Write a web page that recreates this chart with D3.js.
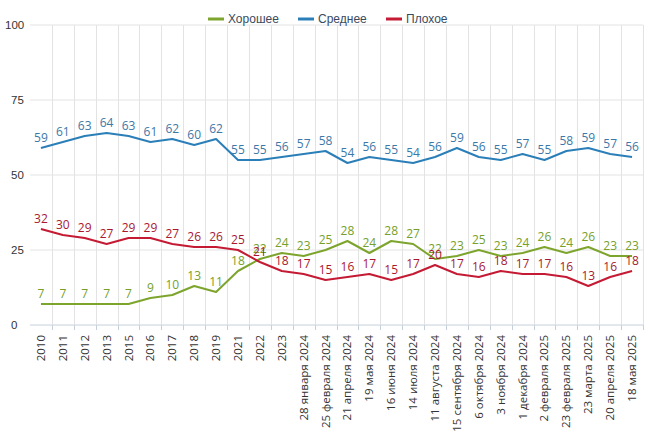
<!DOCTYPE html>
<html><head><meta charset="utf-8">
<script src="https://cdn.jsdelivr.net/npm/d3@7"></script>
<style>body{margin:0;background:#fff}svg{display:block}</style>
</head><body>
<script>
const categories = ["2010","2011","2012","2013","2015","2016","2017","2018","2019","2021","2022","2023",
"28 января 2024","25 февраля 2024","21 апреля 2024","19 мая 2024","16 июня 2024","14 июля 2024",
"11 августа 2024","15 сентября 2024","6 октября 2024","3 ноября 2024","1 декабря 2024",
"2 февраля 2025","23 февраля 2025","23 марта 2025","20 апреля 2025","18 мая 2025"];
const good = [7,7,7,7,7,9,10,13,11,18,22,24,23,25,28,24,28,27,22,23,25,23,24,26,24,26,23,23];
const average = [59,61,63,64,63,61,62,60,62,55,55,56,57,58,54,56,55,54,56,59,56,55,57,55,58,59,57,56];
const bad = [32,30,29,27,29,29,27,26,26,25,21,18,17,15,16,17,15,17,20,17,16,18,17,17,16,13,16,18];
const seriesNames = ["Хорошее","Среднее","Плохое"];
const yTicks = [0,25,50,75,100];

const W=650,H=433;
const svg=d3.select("body").append("svg").attr("width",W).attr("height",H);
const x=d3.scaleBand().domain(categories).range([30,643]);
const y=d3.scaleLinear().domain([0,100]).range([325,25]);

const series=[
 {name:seriesNames[0],vals:good,color:"#7da42d",lab:"#76a02a"},
 {name:seriesNames[1],vals:average,color:"#2b7fb8",lab:"#3c78a8"},
 {name:seriesNames[2],vals:bad,color:"#c41a33",lab:"#a8182f"}
];

// grid
const g=svg.append("g");
g.selectAll(".hg").data(yTicks).enter().append("line")
 .attr("x1",30).attr("x2",643).attr("y1",d=>y(d)).attr("y2",d=>y(d))
 .attr("stroke",d=>d===0?"#c5d0dc":"#e3e3e3").attr("stroke-width",1);
const bounds=categories.map(c=>x(c)).concat([x.range()[1]]);
g.selectAll(".vg").data(bounds.slice(1)).enter().append("line")
 .attr("x1",d=>Math.round(d)+0.5).attr("x2",d=>Math.round(d)+0.5).attr("y1",25).attr("y2",325)
 .attr("stroke","#e3e3e3");
// x ticks
g.selectAll(".xt").data(bounds.slice(1)).enter().append("line")
 .attr("x1",d=>Math.round(d)+0.5).attr("x2",d=>Math.round(d)+0.5).attr("y1",325).attr("y2",330)
 .attr("stroke","#c5d0dc");

// y labels
svg.selectAll(".yl").data(yTicks).enter().append("text")
 .attr("x",d=>d===100?5:11).attr("y",d=>y(d)+4)
 .attr("font-family","Liberation Sans, Arial, sans-serif").attr("font-size",11.5)
 .attr("fill","#333").text(d=>d);

// x labels
svg.selectAll(".xl").data(categories).enter().append("text")
 .attr("transform",d=>`translate(${x(d)+x.bandwidth()/2+4},335) rotate(-90)`)
 .attr("text-anchor","end")
 .attr("font-family","Open Sans, sans-serif").attr("font-size",11.5)
 .attr("fill","#333").text(d=>d);

const line=d3.line().x((d,i)=>x(categories[i])+x.bandwidth()/2).y(d=>y(d));
series.forEach(s=>{
 svg.append("path").attr("d",line(s.vals)).attr("fill","none")
  .attr("stroke",s.color).attr("stroke-width",2).attr("stroke-linejoin","round");
});
series.forEach(s=>{
 svg.selectAll(null).data(s.vals).enter().append("text")
  .attr("x",(d,i)=>x(categories[i])+x.bandwidth()/2)
  .attr("y",d=>y(d)-6)
  .attr("text-anchor","middle")
  .attr("font-family","Open Sans, sans-serif").attr("font-size",12)
  .attr("fill",s.lab).text(d=>d);
});

// legend
const lx=[208,298,386];
series.forEach((s,i)=>{
 svg.append("line").attr("x1",lx[i]).attr("x2",lx[i]+16).attr("y1",19).attr("y2",19)
  .attr("stroke",s.color).attr("stroke-width",3);
 svg.append("text").attr("x",lx[i]+20).attr("y",23)
  .attr("font-family","Liberation Sans, Arial, sans-serif").attr("font-size",12)
  .attr("fill","#3a4a5e").text(s.name);
});
</script>
</body></html>
